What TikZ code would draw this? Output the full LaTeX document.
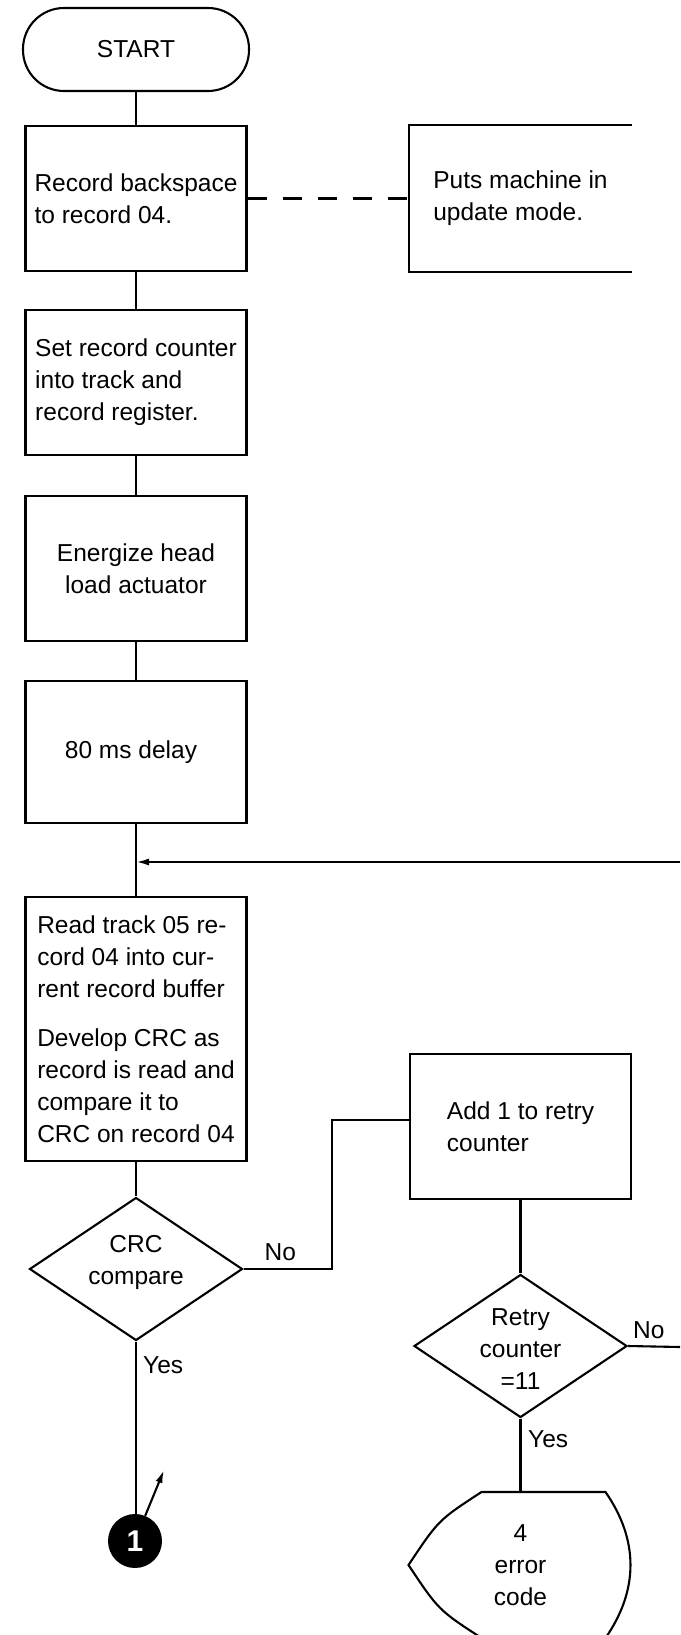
\documentclass[tikz,border=0pt]{standalone}
\usepackage{fontspec}
\setmainfont{Liberation Sans}
\usetikzlibrary{shapes.geometric,arrows.meta,calc}
\begin{document}
\begin{tikzpicture}[x=1pt,y=-1pt,
  every node/.style={font=\fontsize{24.5}{32}\selectfont},
  line/.style={line width=2.1pt},
  procbox/.style={draw, line width=2.1pt, minimum width=221pt, minimum height=145pt, align=left, inner sep=0pt},
  term/.style={draw, line width=2.1pt, rounded corners=41pt, minimum width=226pt, minimum height=83pt},
  decis/.style={draw, diamond, line width=2.1pt, minimum width=213pt, minimum height=143pt, inner sep=0pt},
  lbl/.style={inner sep=0pt},
  tip/.style={-{Latex[length=13pt,width=7pt]}},
]
\useasboundingbox (0,0) rectangle (680,1635);
\fill[white] (0,0) rectangle (680,1635);
\clip (0,0) rectangle (680,1635);

% main column
\node[term] (start) at (136,49.5) {START};
\node[procbox] (b1) at (136,198.5) {Record backspace\\to record 04.};
\node[procbox, draw=none] (upd) at (520.5,198.5) {Puts machine in\\update mode.};
\node[procbox] (b2) at (136,382.5) {Set record counter\\into track and\\record register.};
\node[procbox, align=center] (b3) at (136,568.5) {Energize head\\load actuator};
\node[procbox, minimum height=142pt] (b4) at (136,752) {\hspace*{-10pt}80 ms delay};
\node[procbox, minimum height=264pt] (b5) at (136,1029) {Read track 05 re-\\cord 04 into cur-\\rent record buffer\\[17pt]Develop CRC as\\record is read and\\compare it to\\CRC on record 04};
\node[decis] (d1) at (136,1269) {};
\node[align=center, inner sep=0pt] (d1t) at (136,1262.5) {CRC\\compare};
\node[circle, fill=black, minimum size=54pt, inner sep=0pt, text=white, font=\fontsize{30}{30}\selectfont\bfseries] (c1) at (135,1541) {1};

% right column
\node[procbox] (add) at (520.5,1126.5) {Add 1 to retry\\counter};
\node[decis] (d2) at (520.5,1346) {};
\node[align=center, inner sep=0pt] (d2t) at (520.5,1349.5) {Retry\\counter\\=11};
\node[align=center, inner sep=0pt, minimum height=146pt] (err) at (520.5,1565) {4\\error\\code};

% coordinates for free ends / bends
\coordinate (fb) at (680,862);
\coordinate (k1) at (332,1120);
\coordinate (nr) at (680,1347);
\coordinate (ctip) at (164,1470);

% open box on the right
\draw[line] (upd.north east) -- (upd.north west) -- (upd.south west) -- (upd.south east);
\draw[line, dash pattern=on 19pt off 16pt] (b1.east) -- (upd.west);

% main flow
\draw[line] (start) -- (b1);
\draw[line] (b1) -- (b2);
\draw[line] (b2) -- (b3);
\draw[line] (b3) -- (b4);
\draw[line] (b4) -- (b5);
\draw[line] (b5) -- (d1);
\draw[line] (d1.south) -- (d1.south |- c1.north);
\draw[line, tip] (fb) -- (fb -| b4.south);
\draw[line, tip] (c1.68) -- (ctip);

% no branch
\draw[line] (d1.east) -| (k1) -- (k1 -| add.west);
\draw[line] (add) -- (d2);
\draw[line] (d2.east) -- (nr);
\draw[line] (d2.south) -- (err.north);

% error display shape
\draw[line, line join=miter] (481.5,1492) -- (605.5,1492)
  .. controls (638.8,1540) and (638.8,1590) .. (605.5,1638)
  -- (481.5,1638)
  .. controls (438.5,1610) .. (408.5,1565)
  .. controls (438.5,1520) .. (481.5,1492) -- cycle;

% labels
\node[lbl, anchor=base west] (no1) at (264.5,1260) {No};
\node[lbl, anchor=base west] (yes1) at (143,1373) {Yes};
\node[lbl, anchor=base west] (no2) at (633,1338) {No};
\node[lbl, anchor=base west] (yes2) at (528,1447) {Yes};
\end{tikzpicture}
\end{document}
